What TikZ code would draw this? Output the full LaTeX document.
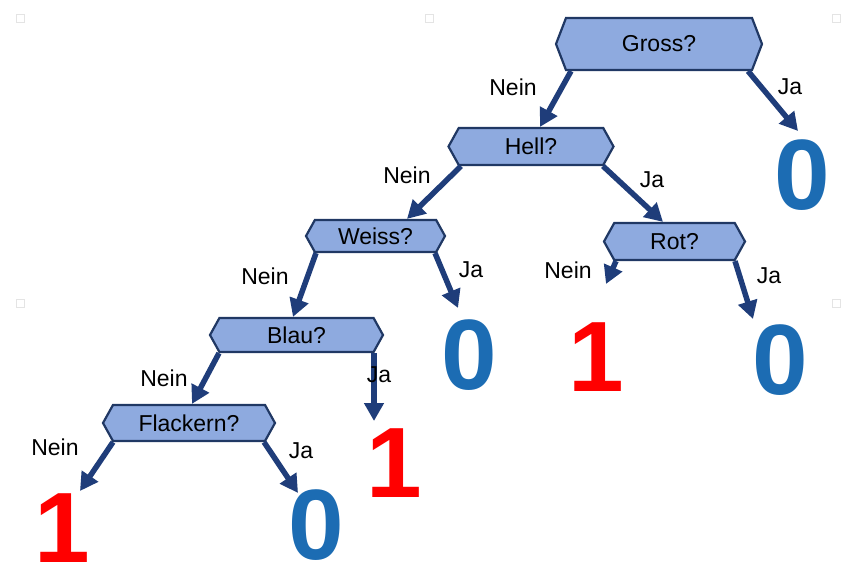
\documentclass[tikz,border=0pt]{standalone}
\usepackage{fontspec}
\setmainfont{Liberation Sans}
\usetikzlibrary{shapes.symbols,arrows.meta}
\definecolor{hexfill}{HTML}{8EAADF}
\definecolor{hexline}{HTML}{203864}
\definecolor{arrowc}{HTML}{1F3D7A}
\definecolor{zeroc}{HTML}{1C6CB3}
\definecolor{onec}{HTML}{FF0000}
\definecolor{markc}{HTML}{E4E4E4}
\tikzset{
  hexbox/.style={signal, signal to=east and west, signal pointer angle=122,
    draw=hexline, line width=2.2pt, fill=hexfill, inner sep=0pt,
    font=\fontsize{23}{27}\selectfont},
  lbl/.style={inner sep=0pt, font=\fontsize{23}{27}\selectfont},
  zero/.style={inner sep=0pt, text=zeroc, font=\fontsize{100}{110}\selectfont\bfseries},
  one/.style={inner sep=0pt, text=onec, font=\fontsize{100}{110}\selectfont\bfseries},
  arr/.style={draw=arrowc, line width=5.5pt, -{Triangle[length=18pt,width=19pt]}},
  slidemark/.style={draw=markc, fill=white, line width=0.8pt, minimum size=8pt, inner sep=0pt},
}
\begin{document}
\begin{tikzpicture}[x=1pt,y=-1pt]
\useasboundingbox (0,0) rectangle (861,575);
% slide markers
\node[slidemark] (m1) at (20,18) {};
\node[slidemark] (m2) at (429,18) {};
\node[slidemark] (m3) at (836,18) {};
\node[slidemark] (m4) at (20,303) {};
\node[slidemark] (m5) at (836,303) {};
% decision nodes
\node[hexbox, minimum width=206pt, minimum height=52pt, signal pointer angle=138] (G) at (659,44) {Gross?};
\node[hexbox, minimum width=165pt, minimum height=37pt] (H) at (531,146.5) {Hell?};
\node[hexbox, minimum width=139pt, minimum height=32pt] (W) at (375.5,236) {Weiss?};
\node[hexbox, minimum width=141pt, minimum height=37pt] (R) at (674.5,241.5) {Rot?};
\node[hexbox, minimum width=173pt, minimum height=34pt] (B) at (296.5,335) {Blau?};
\node[hexbox, minimum width=172pt, minimum height=36pt] (F) at (189,423) {Flackern?};
% leaves
\node[zero] (z1) at (802,175) {0};
\node[zero] (z2) at (469,355) {0};
\node[one]  (o1) at (596,357) {1};
\node[zero] (z3) at (780,360) {0};
\node[one]  (o2) at (394,463) {1};
\node[one]  (o3) at (62,528) {1};
\node[zero] (z4) at (316,525) {0};
% free arrow ends
\coordinate (e1) at (798,131);
\coordinate (e2) at (458,308);
\coordinate (e3) at (606,284);
\coordinate (e4) at (753,319);
\coordinate (e5) at (374,421);
\coordinate (e6) at (80,491);
\coordinate (e7) at (298,493);
% arrows
\draw[arr] ([xshift=-88pt]G.south) -- ([xshift=9pt]H.north);
\draw[arr] ([xshift=89pt]G.south) -- (e1);
\draw[arr] ([xshift=-70pt]H.south) -- ([xshift=31.5pt]W.north);
\draw[arr] ([xshift=72pt]H.south) -- ([xshift=-11.5pt]R.north);
\draw[arr] ([xshift=-59.5pt]W.south) -- ([xshift=-3.5pt]B.north);
\draw[arr] ([xshift=59.5pt]W.south) -- (e2);
\draw[arr] ([xshift=-58.5pt]R.south) -- (e3);
\draw[arr] ([xshift=60.5pt]R.south) -- (e4);
\draw[arr] ([xshift=-77.5pt]B.south) -- ([xshift=3pt]F.north);
\draw[arr] ([xshift=77.5pt]B.south) -- (e5);
\draw[arr] ([xshift=-76pt]F.south) -- (e6);
\draw[arr] ([xshift=75pt]F.south) -- (e7);
% labels
\node[lbl] (l1) at (513,87) {Nein};
\node[lbl] (l2) at (790,87) {Ja};
\node[lbl] (l3) at (407,175) {Nein};
\node[lbl] (l4) at (652,180) {Ja};
\node[lbl] (l5) at (265,276) {Nein};
\node[lbl] (l6) at (471,270) {Ja};
\node[lbl] (l7) at (568,270) {Nein};
\node[lbl] (l8) at (769,276) {Ja};
\node[lbl] (l9) at (164,378) {Nein};
\node[lbl] (l10) at (379,375) {Ja};
\node[lbl] (l11) at (55,447) {Nein};
\node[lbl] (l12) at (301,451) {Ja};
\end{tikzpicture}
\end{document}
